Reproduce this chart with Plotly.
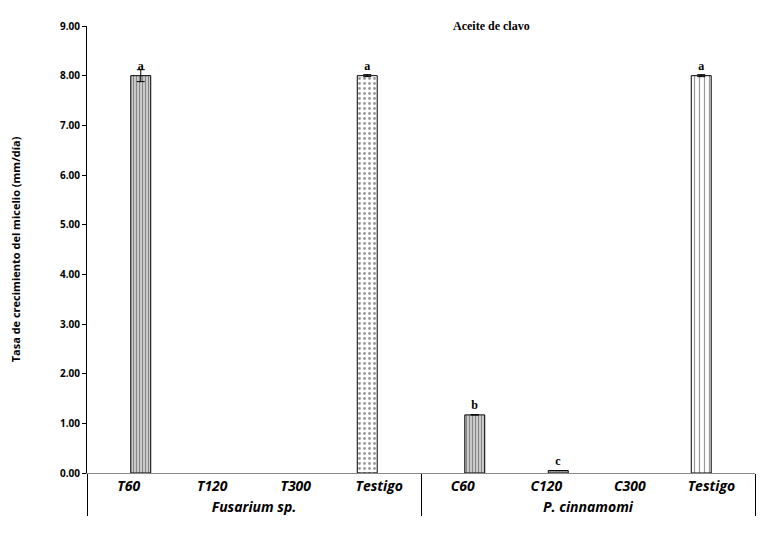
import plotly.graph_objects as go

# data
grupos = ["Fusarium sp."] * 4 + ["P. cinnamomi"] * 4
# second "Testigo" has a trailing space so the multicategory axis keeps the order
trat = ["T60", "T120", "T300", "Testigo", "C60", "C120", "C300", "Testigo "]

# treated samples (right bar of each slot)
tasa_trat = [8.00, None, None, None, 1.17, 0.05, None, None]
err_trat = [0.12, None, None, None, 0.0, 0.0, None, None]
letras_trat = ["a", "", "", "", "b", "c", "", ""]

# controls (left bar of each slot)
tasa_test = [None, None, None, 8.00, None, None, None, 8.00]
err_test = [None, None, None, 0.02, None, None, None, 0.02]
letras_test = ["", "", "", "a", "", "", "", "a"]

x = [grupos, trat]

letra_font = dict(family="Liberation Serif", size=12, color="black", weight="bold")

tr_trat = go.Bar(
    x=x, y=tasa_trat, name="tratamiento",
    marker=dict(color="white", line=dict(color="black", width=1),
                pattern=dict(shape=["|", "", "", "", "|", ".", "", ""],
                             fgcolor="#333", bgcolor="#ddd", size=3, solidity=0.5)),
    error_y=dict(type="data", array=err_trat, color="black", thickness=1, width=4),
    text=letras_trat, textposition="outside", textfont=letra_font, cliponaxis=False,
)
tr_test = go.Bar(
    x=x, y=tasa_test, name="testigo",
    marker=dict(color="white", line=dict(color="black", width=1),
                pattern=dict(shape=["", "", "", ".", "", "", "", "|"],
                             fgcolor="#333", bgcolor="white", size=5, solidity=0.25)),
    error_y=dict(type="data", array=err_test, color="black", thickness=1, width=4),
    text=letras_test, textposition="outside", textfont=letra_font, cliponaxis=False,
)

# the page adds an 8px body margin, so the margins below are shifted by 8px
layout = go.Layout(
    width=768, height=536,
    paper_bgcolor="white", plot_bgcolor="white",
    margin=dict(l=79, r=21, t=18, b=71),
    showlegend=False,
    barmode="group", bargap=0.425, bargroupgap=0.17,
    font=dict(family="Open Sans", color="black"),
    xaxis=dict(
        type="multicategory", automargin=False,
        showline=True, linecolor="#888", linewidth=1,
        showdividers=True, dividercolor="black", dividerwidth=1,
        tickfont=dict(family="Open Sans", size=14, style="italic", weight="bold"),
        showgrid=False,
    ),
    yaxis=dict(
        range=[0, 9], dtick=1, tickformat=".2f", automargin=False,
        showline=True, linecolor="black", linewidth=1,
        ticks="outside", ticklen=4, tickcolor="black",
        showgrid=False, zeroline=False,
        tickfont=dict(family="Open Sans", size=10, weight="bold"),
        title=dict(text="Tasa de crecimiento del micelio (mm/día)",
                   font=dict(family="Open Sans", size=11, weight="bold"), standoff=40),
    ),
    annotations=[dict(
        text="Aceite de clavo", xref="paper", yref="paper", x=0.606, y=1.0,
        xanchor="center", yanchor="middle", showarrow=False,
        font=dict(family="Liberation Serif", size=12, weight="bold"),
    )],
)

fig = go.Figure(data=[tr_test, tr_trat], layout=layout)
fig.write_html("out.html")
